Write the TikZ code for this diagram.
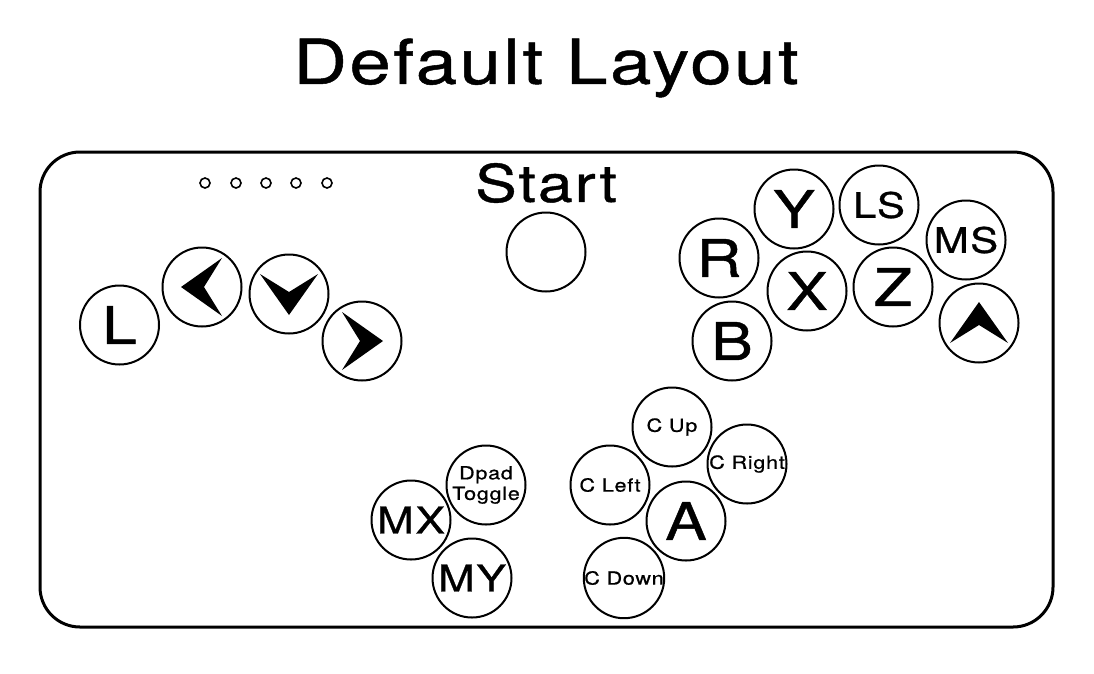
\documentclass[tikz,border=0pt]{standalone}
\usepackage{fontspec}
\setmainfont{TeX Gyre Heros}[FakeStretch=1.2,LetterSpace=4,FakeBold=0.8]
\begin{document}
\begin{tikzpicture}[x=1pt,y=-1pt,
  btn/.style={circle,draw,line width=2pt,minimum size=79pt,inner sep=0pt},
  big/.style={font=\fontsize{52}{56}\selectfont},
  mid/.style={font=\fontsize{35}{40}\selectfont},
  midb/.style={font=\fontsize{37}{42}\selectfont},
  small/.style={font=\fontsize{18}{20.5}\selectfont,align=center},
  led/.style={circle,draw,line width=1.6pt,minimum size=10pt,inner sep=0pt},
  chev/.style={fill=black}]
\useasboundingbox (0,0) rectangle (1094,673);
% title
\node[font=\fontsize{62}{66}\selectfont] (title) at (546,68) {Default Layout};
% board
\draw[line width=3pt,rounded corners=40pt] (40,152) rectangle (1053,627);
% leds
\foreach \i/\x in {1/205,2/236,3/266,4/296,5/327}
  \node[led] (led\i) at (\x,183) {};
% start
\node[big] (starttxt) at (546,183) {Start};
\node[btn] (start) at (546,252) {};
% left cluster
\node[btn,big] (L) at (119.5,325) {L};
\node[btn] (left) at (202,287) {};
\node[btn] (down) at (289,294) {};
\node[btn] (right) at (362,341) {};
\fill[chev,shift={(left.center)}] (-21,0) -- (20,-29) -- (2,0) -- (20,29) -- cycle;
\fill[chev,shift={(down.center)}] (0,21) -- (-29,-20) -- (0,-2) -- (29,-20) -- cycle;
\fill[chev,shift={(right.center)}] (21,0) -- (-20,-29) -- (-2,0) -- (-20,29) -- cycle;
% right cluster
\node[btn,big] (Y) at (794,209) {Y};
\node[btn,mid] (LS) at (879,205) {LS};
\node[btn,mid] (MS) at (966,240) {MS};
\node[btn,big] (R) at (719,258) {R};
\node[btn,big] (X) at (807,291) {X};
\node[btn,big] (Z) at (893,287) {Z};
\node[btn,big] (B) at (732,341) {B};
\node[btn] (up) at (979,323) {};
\fill[chev,shift={(up.center)}] (0,-21) -- (-29,20) -- (0,2) -- (29,20) -- cycle;
% bottom left
\node[btn,midb] (MX) at (411,520) {MX};
\node[btn,small] (dpad) at (486,485) {Dpad\\Toggle};
\node[btn,midb] (MY) at (472,578) {MY};
% bottom right
\node[btn,small] (cleft) at (610,485) {C Left};
\node[btn,small] (cup) at (672,427) {C Up};
\node[btn,small] (cright) at (747,464) {C Right};
\node[btn,big] (A) at (686,521) {A};
\node[btn,small] (cdown) at (624,578) {C Down};
\end{tikzpicture}
\end{document}
